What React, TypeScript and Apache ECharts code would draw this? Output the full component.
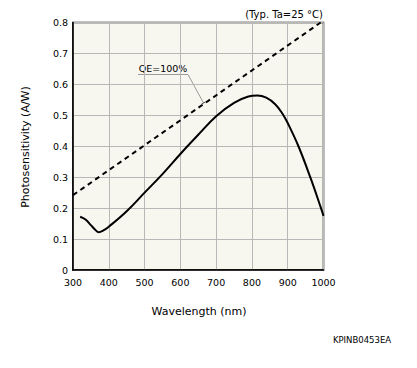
import React, { useEffect, useRef } from 'react';
import * as echarts from 'echarts';

const wavelengths = [320, 335, 350, 362, 372, 385, 400, 450, 500, 550, 600, 650, 700, 750, 790, 815, 840, 865, 885, 900, 930, 963, 993, 1000];
const photosensitivity = [0.172, 0.163, 0.145, 0.13, 0.122, 0.128, 0.14, 0.19, 0.25, 0.31, 0.375, 0.437, 0.497, 0.54, 0.561, 0.564, 0.557, 0.536, 0.506, 0.475, 0.4, 0.3, 0.2, 0.175];
const qeWavelengths = [300, 992];
const qeValues = [0.242, 0.8];
const xTickLabels = ['300', '400', '500', '600', '700', '800', '900', '1000'];
const yTickLabels = ['0', '0.1', '0.2', '0.3', '0.4', '0.5', '0.6', '0.7', '0.8'];

const FONT = 'DejaVu Sans';

export default function App() {
  const ref = useRef<HTMLDivElement>(null);
  useEffect(() => {
    if (!ref.current) return;
    const chart = echarts.init(ref.current, undefined, { renderer: 'svg' });
    const left = 73, top = 22.5, right = 323.5, bottom = 270;
    chart.setOption({
      animation: false,
      backgroundColor: '#ffffff',
      grid: {
        left, top, width: right - left, height: bottom - top,
        show: true, backgroundColor: '#f7f6ef', borderColor: '#000', borderWidth: 1.5,
        containLabel: false,
      },
      xAxis: {
        type: 'value', min: 300, max: 1000, interval: 100,
        axisLine: { show: true, lineStyle: { color: '#000', width: 1.5 } },
        axisTick: { show: false },
        splitLine: { show: true, lineStyle: { color: '#b8b8b8', width: 1 } },
        axisLabel: {
          color: '#000', fontFamily: FONT, fontSize: 9.5, margin: 7,
          formatter: (v: number) => xTickLabels[Math.round((v - 300) / 100)] ?? '',
        },
      },
      yAxis: {
        type: 'value', min: 0, max: 0.8, interval: 0.1,
        axisLine: { show: true, lineStyle: { color: '#000', width: 1.5 } },
        axisTick: { show: false },
        splitLine: { show: true, lineStyle: { color: '#b8b8b8', width: 1 } },
        axisLabel: {
          color: '#000', fontFamily: FONT, fontSize: 9.5, margin: 5,
          formatter: (v: number) => yTickLabels[Math.round(v * 10)] ?? '',
        },
      },
      series: [
        {
          type: 'line', showSymbol: false, smooth: 0.4,
          data: wavelengths.map((w, i) => [w, photosensitivity[i]]),
          lineStyle: { color: '#000', width: 2 },
          silent: true,
        },
        {
          type: 'line', showSymbol: false,
          data: qeWavelengths.map((w, i) => [w, qeValues[i]]),
          lineStyle: { color: '#000', width: 2, type: [5, 4] },
          silent: true,
        },
      ],
      graphic: [
        { type: 'text', style: { text: 'Wavelength (nm)', x: 199, y: 311, align: 'center', verticalAlign: 'middle', fill: '#000', font: `11px "${FONT}"` } },
        { type: 'text', x: 25, y: 147, rotation: Math.PI / 2, style: { text: 'Photosensitivity (A/W)', x: 0, y: 0, align: 'center', verticalAlign: 'middle', fill: '#000', font: `11px "${FONT}"` } },
        { type: 'text', style: { text: '(Typ. Ta=25 °C)', x: 323, y: 14, align: 'right', verticalAlign: 'middle', fill: '#000', font: `10px "${FONT}"` } },
        { type: 'text', style: { text: 'KPINB0453EA', x: 362, y: 340, align: 'center', verticalAlign: 'middle', fill: '#000', font: `8.5px "${FONT}"` } },
        { type: 'text', style: { text: 'QE=100%', x: 163, y: 68, align: 'center', verticalAlign: 'middle', fill: '#000', font: `9.5px "${FONT}"` } },
        { type: 'polyline', shape: { points: [[138, 74.5], [188, 74.5], [203.5, 103]] }, style: { stroke: '#9a9a9a', lineWidth: 1, fill: null } },
        { type: 'line', shape: { x1: 201.5, y1: 104, x2: 205.5, y2: 102 }, style: { stroke: '#555', lineWidth: 1 } },
      ],
    });
    return () => chart.dispose();
  }, []);
  return <div ref={ref} style={{ position: 'absolute', left: 0, top: 0, width: 417, height: 368 }} />;
}
